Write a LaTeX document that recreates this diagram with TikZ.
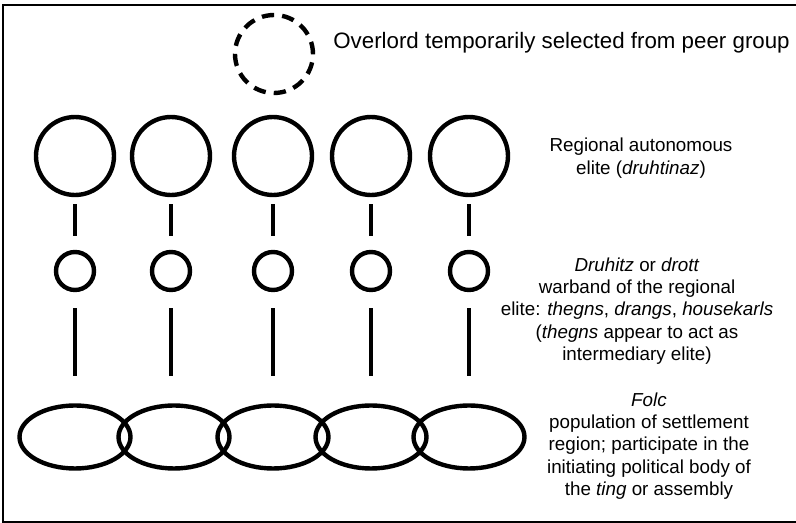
\documentclass[tikz,border=0pt]{standalone}
\usepackage{fontspec}
\setmainfont{Liberation Sans}
\usetikzlibrary{positioning, shapes.geometric}
\tikzset{
  elite/.style={draw, circle, line width=2.5pt, minimum size=1.56cm, inner sep=0pt},
  overlord/.style={elite, dash pattern=on 7pt off 4.6pt},
  warband/.style={draw, circle, line width=2.5pt, minimum size=0.76cm, inner sep=0pt},
  folc/.style={draw, ellipse, line width=2.5pt, minimum width=2.22cm, minimum height=1.26cm, inner sep=0pt},
  tie/.style={line width=2.7pt},
  lbl/.style={align=center, inner sep=0pt, font=\fontsize{10.7}{12.7}\selectfont}
}

\begin{document}
\begin{tikzpicture}[x=0.02cm, y=-0.02cm]
    \useasboundingbox (0,0) rectangle (796,523);
    \draw[line width=1pt] (796,5) -- (3,5) -- (3,522) -- (796,522);
    \node[overlord] (lord) at (274, 54) {};
    \node[anchor=west, inner sep=0pt, font=\fontsize{12.7}{15}\selectfont] (lordtxt) at (333, 43)
          {Overlord temporarily selected from peer group};
    \node[elite] (e1) at ( 75, 156) {};
    \node[elite] (e2) at (171, 156) {};
    \node[elite] (e3) at (273, 156) {};
    \node[elite] (e4) at (371, 156) {};
    \node[elite] (e5) at (469, 156) {};
    \node[warband] (w1) at ( 75, 271) {};
    \node[warband] (w2) at (171, 271) {};
    \node[warband] (w3) at (273, 271) {};
    \node[warband] (w4) at (371, 271) {};
    \node[warband] (w5) at (469, 271) {};
    \node[folc] (f1) at ( 75, 437) {};
    \node[folc] (f2) at (174, 437) {};
    \node[folc] (f3) at (273, 437) {};
    \node[folc] (f4) at (371, 437) {};
    \node[folc] (f5) at (469, 437) {};
    \draw[tie, shorten <=0.14cm, shorten >=0.28cm] (e1.south) -- (w1.north);
    \draw[tie, shorten <=0.14cm, shorten >=0.28cm] (e2.south) -- (w2.north);
    \draw[tie, shorten <=0.14cm, shorten >=0.28cm] (e3.south) -- (w3.north);
    \draw[tie, shorten <=0.14cm, shorten >=0.28cm] (e4.south) -- (w4.north);
    \draw[tie, shorten <=0.14cm, shorten >=0.28cm] (e5.south) -- (w5.north);
    \draw[tie, shorten <=0.32cm, shorten >=0.54cm] (w1.south) -- (w1.south |- f1.north);
    \draw[tie, shorten <=0.32cm, shorten >=0.54cm] (w2.south) -- (w2.south |- f2.north);
    \draw[tie, shorten <=0.32cm, shorten >=0.54cm] (w3.south) -- (w3.south |- f3.north);
    \draw[tie, shorten <=0.32cm, shorten >=0.54cm] (w4.south) -- (w4.south |- f4.north);
    \draw[tie, shorten <=0.32cm, shorten >=0.54cm] (w5.south) -- (w5.south |- f5.north);
    \node[lbl] (elitetxt) at (641, 158) {Regional autonomous\\elite (\textit{druhtinaz})};
    \node[lbl] (bandtxt) at (637, 311)
          {\textit{Druhitz} or \textit{drott}\\warband of the regional\\elite: \textit{thegns}, \textit{drangs}, \textit{housekarls}\\(\textit{thegns} appear to act as\\intermediary elite)};
    \node[lbl] (folctxt) at (649, 446)
          {\textit{Folc}\\population of settlement\\region; participate in the\\initiating political body of\\the \textit{ting} or assembly};
  \end{tikzpicture}
\end{document}
